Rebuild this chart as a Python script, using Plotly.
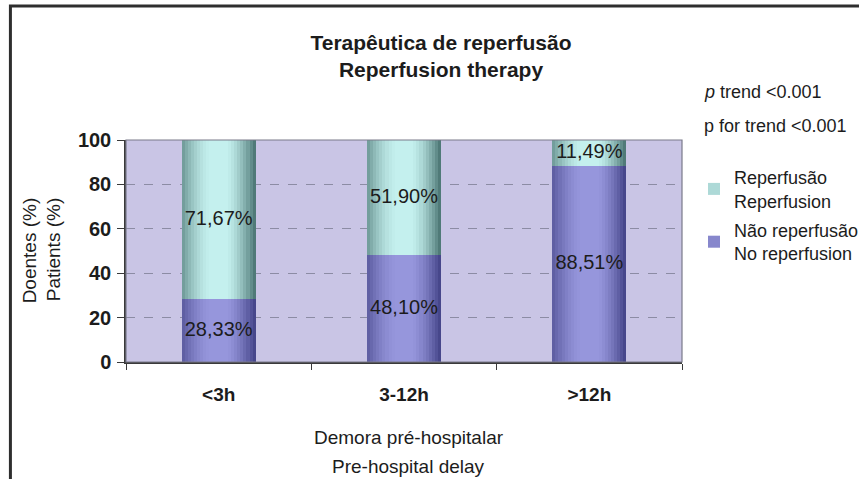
import plotly.graph_objects as go

# ---------------- data ----------------
categories = ["<3h", "3-12h", ">12h"]
no_reperfusion = [28.33, 48.10, 88.51]
reperfusion = [71.67, 51.90, 11.49]
y_ticks = [0, 20, 40, 60, 80, 100]

# ---------------- styling helpers ----------------
FONT = "Liberation Sans, Arial, Helvetica, sans-serif"
W, H = 859, 479
L, R, T, B = 126, 175, 140, 117
PW = W - L - R
PH = H - T - B


def px_x(x):
    return (x - L) / PW


def px_y(y):
    return (H - B - y) / PH


def mix(c0, c1, t):
    return "rgb(%d,%d,%d)" % tuple(round(a + (b - a) * t) for a, b in zip(c0, c1))


def shade(p):
    # brightness profile across the bar width (0 = left edge, 1 = right edge)
    if p < 0.4:
        return 1 - ((0.4 - p) / 0.4) ** 1.6 * 0.7
    if p > 0.6:
        return 1 - ((p - 0.6) / 0.4) ** 1.5
    return 1.0


TEAL_DARK, TEAL_LIGHT = (70, 112, 110), (196, 240, 238)
PURP_DARK, PURP_LIGHT = (64, 64, 132), (150, 150, 220)

BW = 0.4
N = 24
fig = go.Figure()

nr_cum = no_reperfusion
for i in range(N):
    p = (i + 0.5) / N
    f = shade(p)
    off = -BW / 2 + i * BW / N
    wid = BW - i * BW / N
    fig.add_trace(go.Bar(
        x=categories, y=no_reperfusion, base=[0] * len(categories),
        width=[wid] * len(categories), offset=[off] * len(categories),
        marker=dict(color=mix(PURP_DARK, PURP_LIGHT, f), line=dict(width=0)),
        name="Não reperfusão<br>No reperfusion", legendgroup="nr",
        showlegend=(i == 5), legendrank=2, hoverinfo="skip"))
for i in range(N):
    p = (i + 0.5) / N
    f = shade(p)
    off = -BW / 2 + i * BW / N
    wid = BW - i * BW / N
    fig.add_trace(go.Bar(
        x=categories, y=reperfusion, base=nr_cum,
        width=[wid] * len(categories), offset=[off] * len(categories),
        marker=dict(color=mix(TEAL_DARK, TEAL_LIGHT, f), line=dict(width=0)),
        name="Reperfusão<br>Reperfusion", legendgroup="r",
        showlegend=(i == 5), legendrank=1, hoverinfo="skip"))


def fmt(v):
    return ("%.2f%%" % v).replace(".", ",")


fig.add_trace(go.Scatter(
    x=categories, y=[v / 2 for v in no_reperfusion], mode="text",
    text=[fmt(v) for v in no_reperfusion], textposition="middle center",
    textfont=dict(family=FONT, size=20, color="#1c1c1c"),
    showlegend=False, hoverinfo="skip", cliponaxis=False))
fig.add_trace(go.Scatter(
    x=categories, y=[a + b / 2 for a, b in zip(no_reperfusion, reperfusion)], mode="text",
    text=[fmt(v) for v in reperfusion], textposition="middle center",
    textfont=dict(family=FONT, size=20, color="#1c1c1c"),
    showlegend=False, hoverinfo="skip", cliponaxis=False))

fig.update_layout(
    width=W, height=H,
    margin=dict(l=L, r=R, t=T, b=B),
    paper_bgcolor="white",
    plot_bgcolor="#c9c5e5",
    barmode="overlay",
    bargap=0,
    font=dict(family=FONT, color="#1c1c1c"),
    title=dict(
        text="<b>Terapêutica de reperfusão</b><br><b>Reperfusion therapy</b>",
        font=dict(family=FONT, size=21, color="#1c1c1c"),
        x=441 / W, xref="container", xanchor="center",
        y=1 - 50 / H, yref="container", yanchor="middle"),
    legend=dict(
        x=694 / W, xref="container", y=1 - 159 / H, yref="container",
        xanchor="left", yanchor="top",
        font=dict(family=FONT, size=18, color="#1c1c1c"),
        bgcolor="rgba(0,0,0,0)", borderwidth=0, valign="middle",
        tracegroupgap=3, itemclick=False, itemwidth=30),
    xaxis=dict(
        type="category", range=[-0.5, 2.5],
        showgrid=False, showline=True, linecolor="#3a3a3a", linewidth=1.5,
        ticks="outside", tickson="boundaries", ticklen=6, tickcolor="#3a3a3a",
        tickfont=dict(family=FONT, size=19, weight="bold", color="#1c1c1c"),
        ticklabelstandoff=14, fixedrange=True),
    yaxis=dict(
        range=[0, 100], tickvals=y_ticks,
        showgrid=True, gridcolor="#8c8ca4", griddash="dash", gridwidth=1,
        showline=True, linecolor="#3a3a3a", linewidth=1.5,
        ticks="outside", ticklen=7, tickcolor="#3a3a3a",
        tickfont=dict(family=FONT, size=20, weight="bold", color="#1c1c1c"),
        ticklabelstandoff=2, zeroline=False, fixedrange=True),
    showlegend=True,
)

# plot area border and outer figure frame
fig.add_shape(type="rect", xref="paper", yref="paper", x0=0, y0=0, x1=1, y1=1,
              line=dict(color="#7a7a8a", width=1.2), layer="above")
fig.add_shape(type="rect", xref="paper", yref="paper",
              x0=px_x(10), y0=px_y(500), x1=px_x(880), y1=px_y(6),
              line=dict(color="#2e2e2e", width=3))

# axis titles
fig.add_annotation(text="Doentes (%)", xref="paper", yref="paper",
                   x=px_x(29), y=px_y(250), textangle=-90, showarrow=False,
                   font=dict(family=FONT, size=19, color="#1c1c1c"),
                   xanchor="center", yanchor="middle")
fig.add_annotation(text="Patients (%)", xref="paper", yref="paper",
                   x=px_x(53), y=px_y(250), textangle=-90, showarrow=False,
                   font=dict(family=FONT, size=19, color="#1c1c1c"),
                   xanchor="center", yanchor="middle")
fig.add_annotation(text="Demora pré-hospitalar", xref="paper", yref="paper",
                   x=px_x(410), y=px_y(437), showarrow=False,
                   font=dict(family=FONT, size=19, color="#1c1c1c"),
                   xanchor="center", yanchor="middle")
fig.add_annotation(text="Pre-hospital delay", xref="paper", yref="paper",
                   x=px_x(410), y=px_y(466), showarrow=False,
                   font=dict(family=FONT, size=19, color="#1c1c1c"),
                   xanchor="center", yanchor="middle")

# p-trend notes
fig.add_annotation(text="<i>p</i> trend &lt;0.001", xref="paper", yref="paper",
                   x=px_x(704), y=px_y(92), showarrow=False,
                   font=dict(family=FONT, size=18, color="#1c1c1c"),
                   xanchor="left", yanchor="middle")
fig.add_annotation(text="p for trend &lt;0.001", xref="paper", yref="paper",
                   x=px_x(704), y=px_y(126), showarrow=False,
                   font=dict(family=FONT, size=18, color="#1c1c1c"),
                   xanchor="left", yanchor="middle")

fig.write_html(
    "out.html",
    config={"displayModeBar": False},
    post_script="document.body.style.margin='0';document.body.style.overflow='hidden';",
)
